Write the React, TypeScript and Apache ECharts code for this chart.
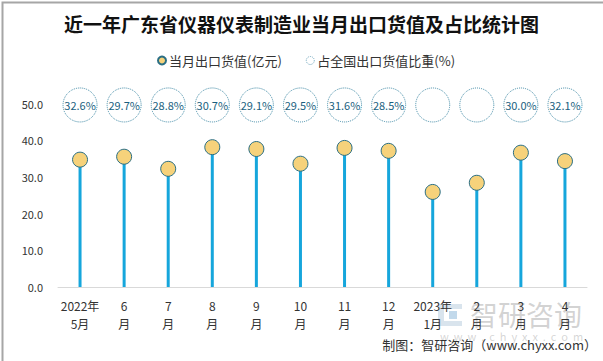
import React, { useEffect, useRef } from 'react';
import * as echarts from 'echarts';

const titleText = '近一年广东省仪器仪表制造业当月出口货值及占比统计图';
const seriesNames = ['当月出口货值(亿元)', '占全国出口货值比重(%)'];
const categories = ['2022年\n5月', '6\n月', '7\n月', '8\n月', '9\n月', '10\n月', '11\n月', '12\n月', '2023年\n1月', '2\n月', '3\n月', '4\n月'];
const exportValues = [34.7, 35.5, 32.2, 38.1, 37.6, 33.6, 37.9, 37.1, 25.9, 28.4, 36.6, 34.3];
const shareValues: (number | null)[] = [32.6, 29.7, 28.8, 30.7, 29.1, 29.5, 31.6, 28.5, null, null, 30.0, 32.1];
const sourceText = '制图：智研咨询（www.chyxx.com）';

const FONT = '"Noto Sans CJK SC", "Microsoft YaHei", sans-serif';

export default function App() {
  const ref = useRef<HTMLDivElement>(null);
  useEffect(() => {
    document.body.style.margin = '0';
    const chart = echarts.init(ref.current!, null, { renderer: 'svg' });
    const shareLevel = 49.6;
    chart.setOption({
      animation: false,
      backgroundColor: '#fff',
      textStyle: { fontFamily: FONT },
      title: {
        text: titleText,
        left: 'center',
        top: 9,
        textStyle: { fontFamily: FONT, fontSize: 19, fontWeight: 'bold', color: '#111' },
      },
      legend: {
        left: 152,
        top: 49,
        itemWidth: 8,
        itemHeight: 8,
        itemGap: 24,
        data: [
          { name: seriesNames[0], icon: 'circle' },
          {
            name: seriesNames[1],
            icon: 'circle',
            itemStyle: { color: '#fff', borderColor: '#6fa6bd', borderWidth: 1, borderType: 'dotted' },
          },
        ],
        textStyle: { fontFamily: FONT, fontSize: 13, color: '#333', padding: [0, 0, 0, -2] },
      },
      grid: { left: 58, right: 16, top: 103.5, bottom: 74 },
      xAxis: {
        type: 'category',
        data: categories,
        axisLine: { lineStyle: { color: '#d9d9d9', width: 1 } },
        axisTick: { show: false },
        axisLabel: { color: '#333', fontSize: 12, lineHeight: 18, margin: 9, interval: 0, fontFamily: FONT },
      },
      yAxis: {
        type: 'value',
        min: 0,
        max: 50,
        interval: 10,
        axisLine: { show: false },
        axisTick: { show: false },
        splitLine: { show: false },
        axisLabel: { color: '#333', fontSize: 11, margin: 15, formatter: (v: number) => v.toFixed(1), fontFamily: FONT },
      },
      series: [
        {
          type: 'bar',
          name: 'stem',
          data: exportValues,
          barWidth: 3,
          itemStyle: { color: '#16a6dc' },
          silent: true,
          z: 1,
        },
        {
          type: 'scatter',
          name: seriesNames[0],
          data: exportValues,
          symbolSize: 15,
          itemStyle: { color: '#f6d27b', borderColor: '#2a6e84', borderWidth: 1, opacity: 1 },
          z: 3,
        },
        {
          type: 'scatter',
          name: seriesNames[1],
          data: categories.map(() => shareLevel),
          symbolSize: 34,
          itemStyle: { color: '#fff', borderColor: '#3f8aa6', borderWidth: 1, borderType: 'dotted', opacity: 1 },
          label: {
            show: true,
            position: 'inside',
            color: '#1a5f80',
            fontSize: 11,
            fontFamily: FONT,
            formatter: (p: any) => {
              const v = shareValues[p.dataIndex];
              return v == null ? '' : v.toFixed(1) + '%';
            },
          },
          z: 3,
        },
      ],
      graphic: [
        {
          type: 'rect',
          left: 0,
          top: 0,
          shape: { width: 602, height: 360 },
          style: { fill: 'none', stroke: '#a6a6a6', lineWidth: 2 },
          silent: true,
          z: 100,
        },
        {
          type: 'group',
          left: 438,
          top: 300,
          silent: true,
          z: 0,
          children: [
            { type: 'rect', shape: { x: 0, y: 2, width: 6, height: 22 }, style: { fill: 'rgba(170,195,215,0.45)' } },
            { type: 'rect', shape: { x: 6, y: 2, width: 18, height: 5 }, style: { fill: 'rgba(170,195,215,0.45)' } },
            { type: 'rect', shape: { x: 6, y: 19, width: 18, height: 5 }, style: { fill: 'rgba(170,195,215,0.45)' } },
            { type: 'rect', shape: { x: 11, y: 9, width: 8, height: 8 }, style: { fill: 'rgba(120,170,210,0.45)' } },
            {
              type: 'text',
              x: 32,
              y: -2,
              style: { text: '智研咨询', fontSize: 28, fontFamily: FONT, fill: 'rgba(140,140,140,0.38)' },
            },
            {
              type: 'text',
              x: 2,
              y: 28,
              style: { text: 'w  w  w  .  c  h  y  x  x  .  c  o  m', fontSize: 11, fontFamily: FONT, fill: 'rgba(150,150,150,0.4)' },
            },
          ],
        },
        {
          type: 'text',
          right: 6,
          top: 338,
          style: { text: sourceText, fontSize: 13, fontFamily: FONT, fill: '#333' },
          z: 50,
        },
      ],
    });
    return () => chart.dispose();
  }, []);
  return <div ref={ref} style={{ width: 603, height: 361, position: 'absolute', left: 0, top: 0 }} />;
}
